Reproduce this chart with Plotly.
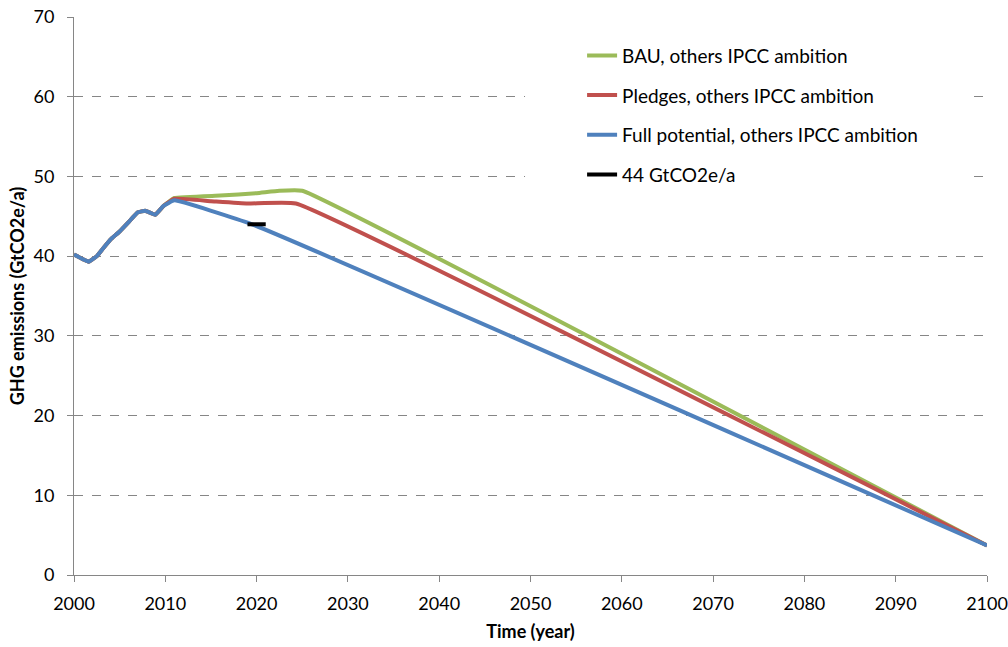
import plotly.graph_objects as go

# Historical emissions (shared by all scenarios)
hist_years = [2000, 2001, 2001.6, 2002.5, 2003.2, 2004.1, 2005, 2006, 2007, 2007.8, 2008.9, 2009.8, 2011]
hist_vals = [40.2, 39.6, 39.3, 40.0, 41.0, 42.2, 43.1, 44.3, 45.5, 45.7, 45.2, 46.3, 47.0]

# Scenario continuations
bau_years = [2011, 2016, 2020, 2022.5, 2025, 2100]
bau_vals = [47.3, 47.6, 47.9, 48.2, 48.2, 3.7]

pledge_years = [2011, 2015, 2019, 2024.3, 2100]
pledge_vals = [47.2, 46.9, 46.6, 46.6, 3.7]

full_years = [2011, 2019.5, 2100]
full_vals = [47.0, 44.0, 3.7]

target_years = [2019, 2021]
target_vals = [44, 44]

names = ["BAU, others IPCC ambition", "Pledges, others IPCC ambition",
         "Full potential, others IPCC ambition", "44 GtCO2e/a"]
colors = ["#9BBB59", "#C0504D", "#4F81BD", "#000000"]

series = [
    (hist_years + bau_years[1:], hist_vals[:-1] + bau_vals),
    (hist_years + pledge_years[1:], hist_vals[:-1] + pledge_vals),
    (hist_years + full_years[1:], hist_vals + full_vals[1:]),
    (target_years, target_vals),
]

fig = go.Figure()
for i, ((xs, ys), nm, c) in enumerate(zip(series, names, colors)):
    fig.add_trace(go.Scatter(x=xs, y=ys, mode="lines", name=nm,
                             legendgroup=f"g{i}",
                             line=dict(color=c, width=4, shape="spline", smoothing=0.3)))

font_family = "Lato, 'Open Sans', sans-serif"

fig.update_layout(
    width=1008, height=647,
    margin=dict(l=74, r=21, t=17, b=72, autoexpand=False),
    paper_bgcolor="white", plot_bgcolor="white",
    font=dict(family=font_family, size=18, color="#000000"),
    showlegend=True,
    legend=dict(x=0.5565, y=0.965, xanchor="left", yanchor="top",
                bgcolor="rgba(0,0,0,0)", font=dict(size=19),
                traceorder="grouped", tracegroupgap=12),
    shapes=[dict(type="rect", xref="paper", yref="paper",
                 x0=0.494, x1=0.976, y0=0.681, y1=0.968,
                 fillcolor="white", line=dict(width=0), layer="above")],
)

fig.update_xaxes(range=[2000, 2100], tickvals=list(range(2000, 2101, 10)),
                 showgrid=False, zeroline=False, automargin=False,
                 showline=True, linecolor="#868686", linewidth=1,
                 ticks="outside", ticklen=6, tickcolor="#868686",
                 tickfont=dict(size=18), ticklabelstandoff=6,
                 ticklabeloverflow="allow",
                 title=dict(text="<b>Time (year)</b>", font=dict(size=18), standoff=12))
fig.update_yaxes(range=[0, 70], tickvals=list(range(0, 71, 10)),
                 showgrid=True, gridcolor="#868686", griddash="dash", gridwidth=1,
                 zeroline=False, automargin=False,
                 showline=True, linecolor="#868686", linewidth=1,
                 ticks="outside", ticklen=6, tickcolor="#868686",
                 tickfont=dict(size=18), ticklabelstandoff=9,
                 ticklabeloverflow="allow",
                 title=dict(text="<b>GHG emissions (GtCO2e/a)</b>", font=dict(size=18), standoff=4))

fig.write_html("out.html", config={"displayModeBar": False},
               post_script="document.body.style.margin='0';")
